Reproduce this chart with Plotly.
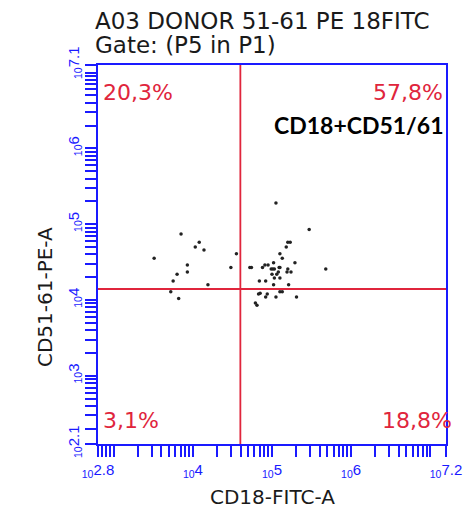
import numpy as np
import plotly.graph_objects as go

# Event data (log10 of fluorescence intensity)
cd18_log = [
    3.85, 4.08, 4.03, 4.14, 3.51, 4.55, 3.93, 4.48, 3.80, 3.93, 3.75, 4.19, 3.72, 3.82,
    5.05, 5.47, 5.20, 5.23, 5.18, 5.10, 5.13, 5.29, 5.02, 4.91, 4.88, 4.95, 4.72, 4.74,
    4.99, 5.01, 5.03, 5.09, 5.10, 5.20, 5.19, 5.24, 5.68, 5.00, 5.06, 5.08, 5.10, 5.03,
    4.84, 4.92, 5.02, 5.21, 4.83, 4.85, 4.94, 4.92, 5.05, 5.10, 5.13, 5.31, 4.79, 4.81,
]
cd51_log = [
    4.87, 4.76, 4.70, 4.66, 4.55, 4.61, 4.46, 4.43, 4.34, 4.37, 4.25, 4.20, 4.11, 4.02,
    5.28, 4.93, 4.76, 4.76, 4.70, 4.61, 4.55, 4.49, 4.49, 4.46, 4.43, 4.46, 4.43, 4.43,
    4.41, 4.41, 4.41, 4.43, 4.43, 4.41, 4.37, 4.37, 4.41, 4.34, 4.34, 4.37, 4.29, 4.29,
    4.25, 4.25, 4.20, 4.20, 4.08, 4.09, 4.08, 4.04, 4.04, 4.11, 4.11, 4.04, 3.96, 3.93,
]

# Quadrant gate (log10 units) and quadrant percentages
gate_x_log = 4.60
gate_y_log = 4.145
quad_labels = {"UL": "20,3%", "UR": "57,8%", "LL": "3,1%", "LR": "18,8%"}

# Axis ranges (log10)
x_range = [2.8, 7.2]
y_range = [2.1, 7.1]

BLUE = "#1a1aff"
RED = "#e0253c"


def log_ticks(lo, hi):
    """Tick values for every 1..9 x 10^n inside the range, plus the ends.
    Decades too close to an end are left unlabelled."""
    vals, texts = [10 ** lo], [f"<sub>10</sub>{lo:g}"]
    for n in range(int(np.floor(lo)), int(np.ceil(hi)) + 1):
        for m in range(1, 10):
            v = m * 10 ** n
            if 10 ** lo < v < 10 ** hi:
                vals.append(v)
                label = m == 1 and (n - lo) > 0.3 and (hi - n) > 0.3
                texts.append(f"<sub>10</sub>{n}" if label else "")
    vals.append(10 ** hi)
    texts.append(f"<sub>10</sub>{hi:g}")
    return vals, texts


xt_vals, xt_text = log_ticks(*x_range)
yt_vals, yt_text = log_ticks(*y_range)

x_events = [10 ** v for v in cd18_log]
y_events = [10 ** v for v in cd51_log]
gx, gy = 10 ** gate_x_log, 10 ** gate_y_log
x_lo, x_hi = 10 ** x_range[0], 10 ** x_range[1]
y_lo, y_hi = 10 ** y_range[0], 10 ** y_range[1]

fig = go.Figure()
fig.add_trace(go.Scatter(
    x=x_events, y=y_events, mode="markers",
    marker=dict(size=3.5, color="#222222"),
    hoverinfo="skip", showlegend=False,
))
# Quadrant lines
fig.add_trace(go.Scatter(x=[gx, gx], y=[y_lo, y_hi], mode="lines",
                         line=dict(color=RED, width=1.8), showlegend=False, hoverinfo="skip"))
fig.add_trace(go.Scatter(x=[x_lo, x_hi], y=[gy, gy], mode="lines",
                         line=dict(color=RED, width=1.8), showlegend=False, hoverinfo="skip"))

axis_common = dict(
    type="log", showgrid=False, zeroline=False,
    showline=True, linecolor=BLUE, linewidth=2, mirror=True,
    ticks="outside", ticklen=11, tickwidth=2, tickcolor=BLUE,
    tickmode="array",
    tickfont=dict(family="Liberation Sans, Arial, sans-serif", size=15, color=BLUE),
)
fig.update_xaxes(range=x_range, tickvals=xt_vals, ticktext=xt_text, tickangle=0, **axis_common)
fig.update_yaxes(range=y_range, tickvals=yt_vals, ticktext=yt_text, tickangle=-90, **axis_common)

txt_font = "DejaVu Sans, Verdana, sans-serif"
ann = []
# Header
ann.append(dict(text="A03 DONOR 51-61 PE 18FITC", x=-0.014, y=1.115, xanchor="left", yanchor="middle",
                font=dict(family=txt_font, size=23, color="#1a1a1a")))
ann.append(dict(text="Gate: (P5 in P1)", x=-0.014, y=1.052, xanchor="left", yanchor="middle",
                font=dict(family=txt_font, size=23, color="#1a1a1a")))
# Quadrant percentages
qfont = dict(family=txt_font, size=22, color=RED)
ann.append(dict(text=quad_labels["UL"], x=0.008, y=0.928, xanchor="left", yanchor="middle", font=qfont))
ann.append(dict(text=quad_labels["UR"], x=0.998, y=0.928, xanchor="right", yanchor="middle", font=qfont))
ann.append(dict(text=quad_labels["LL"], x=0.008, y=0.062, xanchor="left", yanchor="middle", font=qfont))
ann.append(dict(text=quad_labels["LR"], x=1.022, y=0.062, xanchor="right", yanchor="middle", font=qfont))
# Population name
ann.append(dict(text="<b>CD18+CD51/61</b>", x=1.0, y=0.842, xanchor="right", yanchor="middle",
                font=dict(family="Lato, Carlito, sans-serif", size=23, color="#000000")))
# Axis titles
ann.append(dict(text="CD18-FITC-A", x=0.502, y=-0.14, xanchor="center", yanchor="middle",
                font=dict(family=txt_font, size=20, color="#1a1a1a")))
ann.append(dict(text="CD51-61-PE-A", x=-0.152, y=0.388, xanchor="center", yanchor="middle",
                textangle=-90, font=dict(family=txt_font, size=20, color="#1a1a1a")))
for a in ann:
    a.update(xref="paper", yref="paper", showarrow=False)

fig.update_layout(
    width=474, height=519,
    margin=dict(l=98, r=23, t=65, b=75),
    plot_bgcolor="white", paper_bgcolor="white",
    annotations=ann,
    showlegend=False,
)

fig.write_html("out.html")
